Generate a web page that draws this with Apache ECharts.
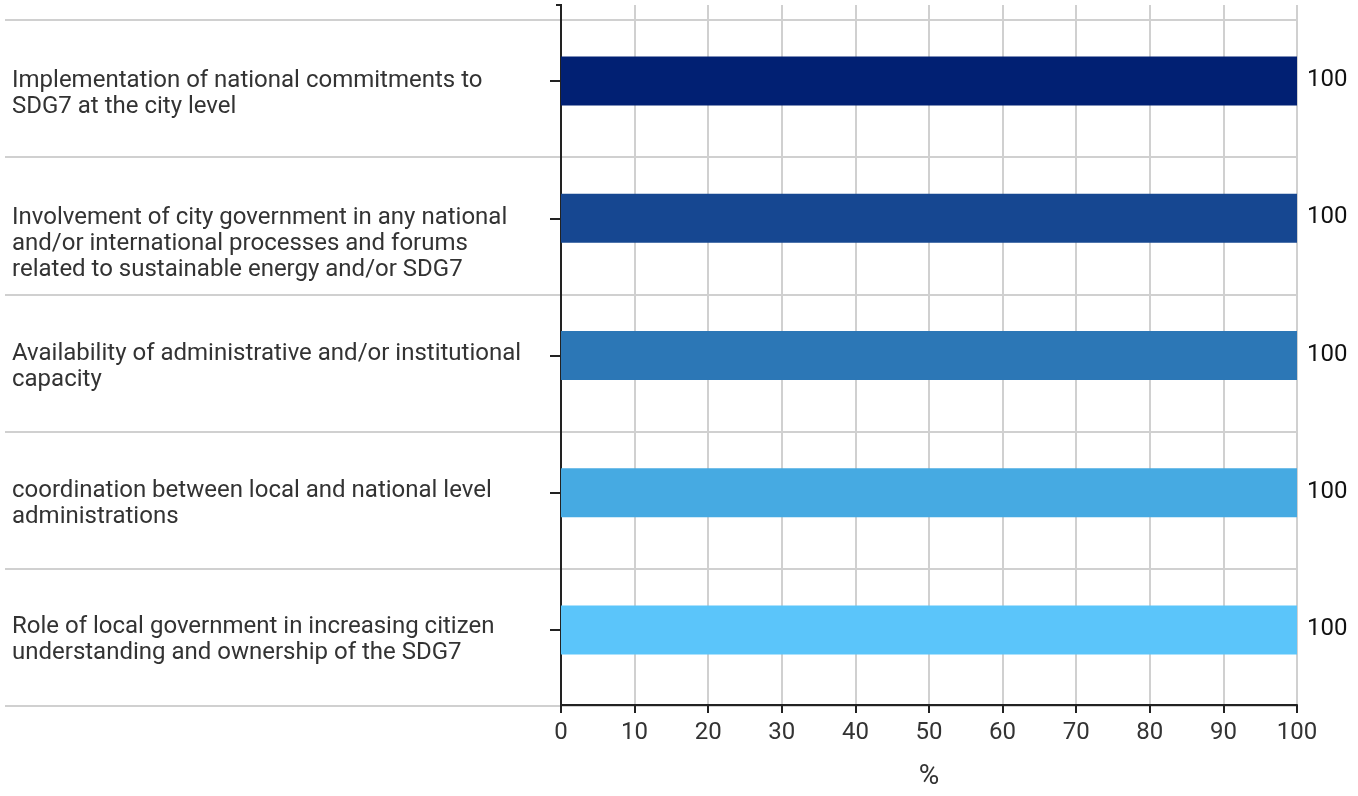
<!DOCTYPE html>
<html>
<head>
<meta charset="utf-8">
<script src="https://cdn.jsdelivr.net/npm/echarts@6/dist/echarts.min.js"></script>
<style>html,body{margin:0;padding:0;background:#fff;}#c{width:1358px;height:796px;}</style>
</head>
<body>
<div id="c"></div>
<script>
const categories = [
  "Implementation of national commitments to\nSDG7 at the city level",
  "Involvement of city government in any national\nand/or international processes and forums\nrelated to sustainable energy and/or SDG7",
  "Availability of administrative and/or institutional\ncapacity",
  "coordination between local and national level\nadministrations",
  "Role of local government in increasing citizen\nunderstanding and ownership of the SDG7"
];
const values = [100, 100, 100, 100, 100];
const barColors = ["#012073", "#164791", "#2c77b6", "#46aae2", "#5bc5fa"];
const xTicks = [0, 10, 20, 30, 40, 50, 60, 70, 80, 90, 100];

const chart = echarts.init(document.getElementById('c'));
const font = 'Roboto';
chart.setOption({
  animation: false,
  textStyle: { fontFamily: font },
  grid: [
    { left: 561, right: 61, top: 5, bottom: 90 },
    { left: 5, right: 61, top: 20, bottom: 90 },
    { left: 561, right: 61, top: 12.5, bottom: 97.5 },
    { left: 561, right: 61, top: -3.5, bottom: 113.5 }
  ],
  xAxis: [
    {
      gridIndex: 0, type: 'value', min: xTicks[0], max: xTicks[xTicks.length - 1], interval: 10,
      axisLine: { show: true, lineStyle: { color: '#222', width: 2 } },
      axisTick: { show: true, length: 8, lineStyle: { color: '#222', width: 2 } },
      axisLabel: { fontSize: 24, color: '#333', margin: 16, fontFamily: font },
      splitLine: { show: true, lineStyle: { color: '#d0d0d0', width: 2 } },
      name: '%', nameLocation: 'middle', nameGap: 58,
      nameTextStyle: { fontSize: 28, color: '#333', fontFamily: font }
    },
    { gridIndex: 1, type: 'value', show: false },
    { gridIndex: 2, type: 'value', min: 0, max: 100, show: false },
    { gridIndex: 3, type: 'value', show: false }
  ],
  yAxis: [
    {
      gridIndex: 0, type: 'category', data: categories, inverse: true,
      axisLine: { show: true, lineStyle: { color: '#222', width: 2 } },
      axisTick: { show: false }, axisLabel: { show: false }, splitLine: { show: false }
    },
    {
      gridIndex: 1, type: 'category', data: categories, inverse: true,
      axisLine: { show: false }, axisTick: { show: false }, axisLabel: { show: false },
      splitLine: { show: true, lineStyle: { color: '#d0d0d0', width: 2 } }
    },
    {
      gridIndex: 2, type: 'category', data: categories, inverse: true,
      axisLine: { show: false },
      axisTick: { show: true, alignWithLabel: true, length: 11, lineStyle: { color: '#222', width: 2 } },
      axisLabel: { show: false },
      splitLine: { show: false }
    },
    {
      gridIndex: 3, type: 'category', data: categories, inverse: true,
      axisLine: { show: false }, axisTick: { show: false }, splitLine: { show: false },
      axisLabel: { align: 'left', verticalAlign: 'top', margin: 549, fontSize: 24, lineHeight: 26, color: '#333', fontFamily: font }
    }
  ],
  series: [{
    type: 'bar', xAxisIndex: 2, yAxisIndex: 2, barWidth: 49,
    data: values.map((v, i) => ({ value: v, itemStyle: { color: barColors[i] } })),
    label: { show: true, position: 'right', distance: 10, color: '#111', fontSize: 24, fontFamily: font, offset: [0, -1] }
  }],
  graphic: [
    { type: 'line', shape: { x1: 556, y1: 5, x2: 562, y2: 5 }, style: { stroke: '#222', lineWidth: 2 } },
    { type: 'line', shape: { x1: 549, y1: 706, x2: 562, y2: 706 }, style: { stroke: '#222', lineWidth: 2 } }
  ]
});
</script>
</body>
</html>
